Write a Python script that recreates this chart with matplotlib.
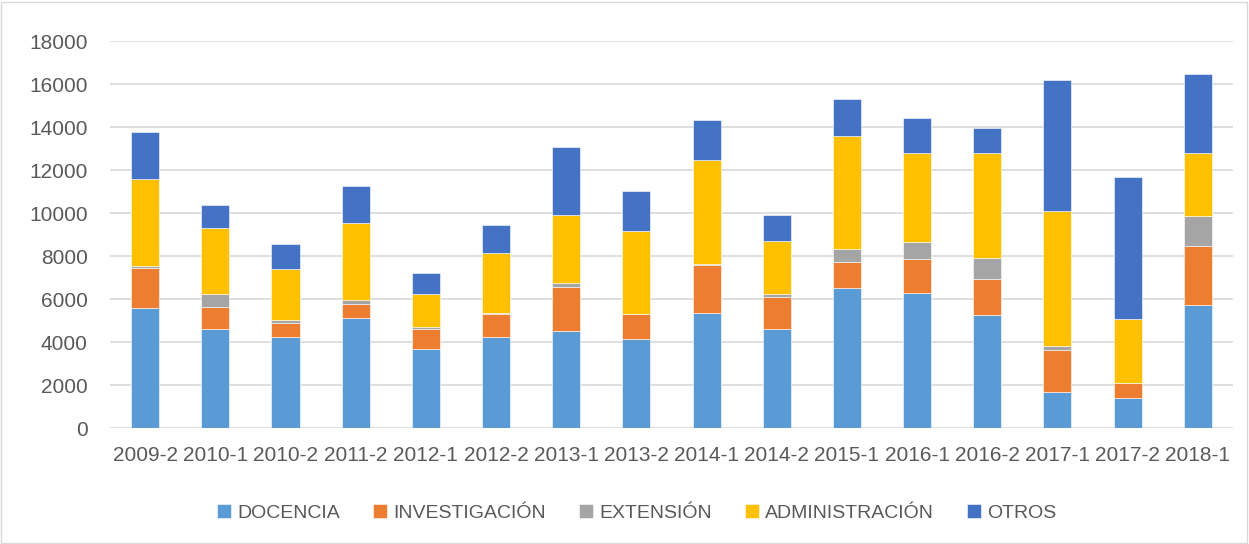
import matplotlib
matplotlib.use("Agg")
import matplotlib.pyplot as plt
from matplotlib.patches import Rectangle
import numpy as np

plt.rcParams["font.family"] = ["Liberation Sans", "DejaVu Sans"]

periods = ["2009-2", "2010-1", "2010-2", "2011-2", "2012-1", "2012-2",
           "2013-1", "2013-2", "2014-1", "2014-2", "2015-1", "2016-1",
           "2016-2", "2017-1", "2017-2", "2018-1"]
docencia = [5580, 4600, 4230, 5120, 3670, 4260, 4510, 4140,
            5380, 4600, 6500, 6270, 5270, 1710, 1430, 5740]
investigacion = [1850, 1030, 650, 650, 950, 1040, 2050, 1150,
                 2200, 1520, 1250, 1580, 1690, 1950, 680, 2740]
extension = [90, 630, 170, 200, 80, 50, 180, 20,
             60, 140, 580, 830, 960, 180, 0, 1400]
administracion = [4080, 3060, 2360, 3560, 1530, 2820, 3180, 3880,
                  4810, 2450, 5240, 4100, 4870, 6240, 2990, 2910]
otros = [2180, 1040, 1150, 1710, 980, 1300, 3150, 1830,
         1890, 1200, 1750, 1640, 1150, 6090, 6590, 3690]

series = [
    ("DOCENCIA", docencia, "#5B9BD5"),
    ("INVESTIGACIÓN", investigacion, "#ED7D31"),
    ("EXTENSIÓN", extension, "#A5A5A5"),
    ("ADMINISTRACIÓN", administracion, "#FFC000"),
    ("OTROS", otros, "#4472C4"),
]

fig = plt.figure(figsize=(12.49, 5.44), dpi=100)
ax = fig.add_axes([0.0881, 0.2127, 0.8990, 0.7119])

x = np.arange(len(periods))
bottom = np.zeros(len(periods))
for name, vals, color in series:
    vals = np.array(vals, dtype=float)
    ax.bar(x, vals, 0.4, bottom=bottom, color=color, label=name,
           edgecolor="white", linewidth=0.4, zorder=3)
    bottom += vals

ax.set_xlim(-0.5, len(periods) - 0.5)
ax.set_ylim(0, 18000)
ax.set_yticks(range(0, 18001, 2000))
ax.set_xticks(x)
ax.set_xticklabels(periods)
ax.tick_params(axis="both", length=0, labelsize=15, colors="#595959")
ax.tick_params(axis="y", pad=16)
ax.tick_params(axis="x", pad=13)
ax.grid(axis="y", color="#d9d9d9", lw=1.2, zorder=0)
for s in ax.spines.values():
    s.set_visible(False)

fig.legend(loc="center", bbox_to_anchor=(0.51, 0.057), ncol=5, frameon=False,
           fontsize=14, labelcolor="#595959", handlelength=0.72,
           handleheight=0.72, handletextpad=0.3, columnspacing=1.72)

fig.patches.append(Rectangle((0.001, 0.002), 0.997, 0.995,
                             transform=fig.transFigure, fill=False,
                             edgecolor="#d9d9d9", lw=1))

fig.savefig("out.png", dpi=100)
